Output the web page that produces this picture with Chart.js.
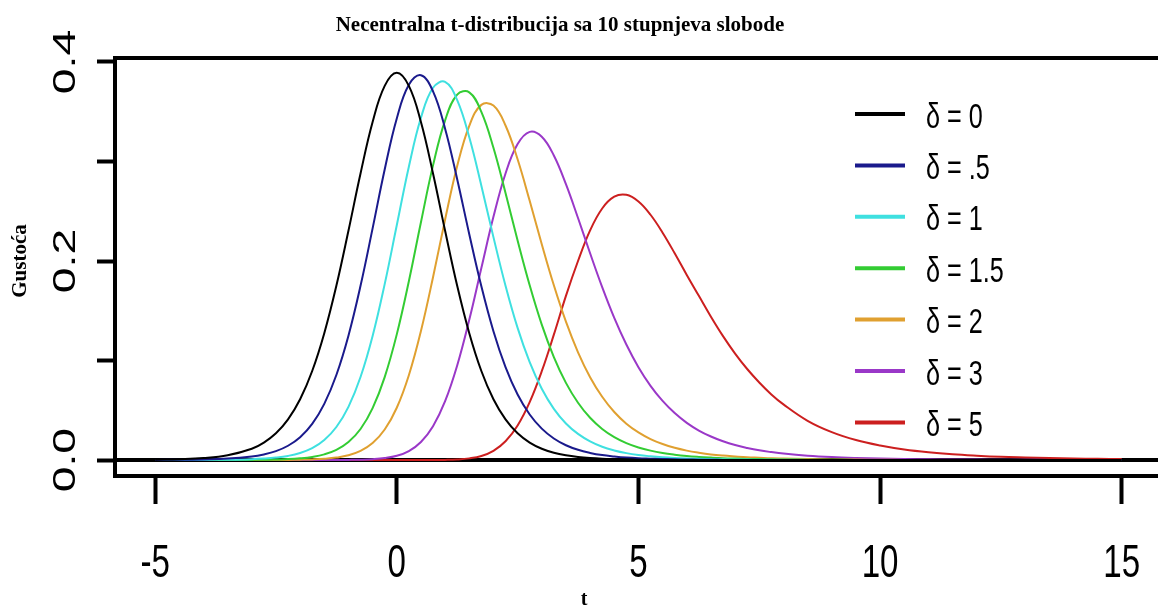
<!DOCTYPE html>
<html>
<head>
<meta charset="utf-8">
<script src="https://cdn.jsdelivr.net/npm/chart.js@4/dist/chart.umd.min.js"></script>
<style>
  html, body { margin: 0; padding: 0; background: #fff; }
  #grafico { display: block; }
</style>
</head>
<body>
<canvas id="grafico" width="1158" height="610"></canvas>
<script>
// t: korak 0.5 u repovima, 0.25 oko vrhova
const tVrijednosti = [-5, -4.5, -4, -3.5, -3,
  -2.75, -2.5, -2.25, -2, -1.75, -1.5, -1.25, -1, -0.75, -0.5, -0.25,
  0, 0.25, 0.5, 0.75, 1, 1.25, 1.5, 1.75, 2, 2.25, 2.5, 2.75, 3,
  3.25, 3.5, 3.75, 4, 4.25, 4.5, 4.75, 5, 5.25, 5.5, 5.75, 6, 6.25,
  6.5, 6.75, 7, 7.25, 7.5, 7.75, 8,
  8.5, 9, 9.5, 10, 10.5, 11, 11.5, 12, 12.5, 13, 13.5, 14, 14.5, 15];

const delta0 = [0.0004, 0.0009, 0.002, 0.0048, 0.0114,
  0.0176, 0.0269, 0.0409, 0.0611, 0.0895, 0.1275, 0.1751, 0.2304, 0.288, 0.3397, 0.376,
  0.3891, 0.376, 0.3397, 0.288, 0.2304, 0.1751, 0.1275, 0.0895, 0.0611, 0.0409, 0.0269, 0.0176, 0.0114,
  0.0074, 0.0048, 0.0031, 0.002, 0.0013, 0.0009, 0.0006, 0.0004, 0.0003, 0.0002, 0.0001, 0.0001, 0.0001,
  0, 0, 0, 0, 0, 0, 0,
  0, 0, 0, 0, 0, 0, 0, 0, 0, 0, 0, 0, 0, 0];
const delta05 = [0.0002, 0.0003, 0.0007, 0.0015, 0.0036,
  0.0057, 0.009, 0.0144, 0.023, 0.0364, 0.0565, 0.0855, 0.125, 0.1751, 0.2328, 0.292,
  0.3433, 0.3771, 0.3867, 0.3705, 0.333, 0.2822, 0.227, 0.1746, 0.1295, 0.0934, 0.0659, 0.0458, 0.0316,
  0.0217, 0.0149, 0.0103, 0.0072, 0.005, 0.0036, 0.0025, 0.0018, 0.0014, 0.001, 0.0008, 0.0006, 0.0004,
  0.0003, 0.0002, 0.0002, 0.0001, 0.0001, 0.0001, 0,
  0, 0, 0, 0, 0, 0, 0, 0, 0, 0, 0, 0, 0, 0];
const delta1 = [0, 0.0001, 0.0002, 0.0004, 0.0009,
  0.0015, 0.0025, 0.0042, 0.0071, 0.0119, 0.0201, 0.0332, 0.0535, 0.0835, 0.1247, 0.1768,
  0.2359, 0.2948, 0.3439, 0.3741, 0.38, 0.3616, 0.3243, 0.2757, 0.224, 0.1752, 0.1328, 0.0984, 0.0716,
  0.0515, 0.0368, 0.0263, 0.0188, 0.0134, 0.0097, 0.007, 0.0051, 0.0038, 0.0028, 0.0021, 0.0016, 0.0013,
  0.001, 0.0008, 0.0006, 0.0005, 0.0004, 0.0003, 0.0003,
  0.0002, 0.0001, 0, 0, 0, 0, 0, 0, 0, 0, 0, 0, 0, 0];
const delta15 = [0, 0, 0, 0.0001, 0.0002,
  0.0003, 0.0006, 0.001, 0.0018, 0.0032, 0.0057, 0.0102, 0.0181, 0.0312, 0.0522, 0.0834,
  0.1263, 0.1797, 0.239, 0.2961, 0.3414, 0.3672, 0.3695, 0.3499, 0.3138, 0.2684, 0.2206, 0.1756, 0.1361,
  0.1035, 0.0776, 0.0576, 0.0425, 0.0313, 0.0231, 0.0171, 0.0127, 0.0095, 0.0071, 0.0054, 0.0041, 0.0032,
  0.0025, 0.0019, 0.0015, 0.0012, 0.001, 0.0008, 0.0006,
  0.0004, 0.0003, 0.0002, 0.0001, 0, 0, 0, 0, 0, 0, 0, 0, 0, 0];
const delta2 = [0, 0, 0, 0, 0,
  0.0001, 0.0001, 0.0002, 0.0004, 0.0007, 0.0013, 0.0025, 0.0048, 0.0092, 0.0171, 0.0307,
  0.0526, 0.0853, 0.1297, 0.1837, 0.2417, 0.2954, 0.3359, 0.3569, 0.3562, 0.3362, 0.3022, 0.2605, 0.2169,
  0.1756, 0.1391, 0.1083, 0.0833, 0.0636, 0.0483, 0.0366, 0.0278, 0.0211, 0.0161, 0.0123, 0.0095, 0.0074,
  0.0057, 0.0045, 0.0036, 0.0028, 0.0023, 0.0018, 0.0015,
  0.001, 0.0007, 0.0005, 0.0003, 0.0002, 0.0002, 0.0001, 0.0001, 0, 0, 0, 0, 0, 0];
const delta3 = [0, 0, 0, 0, 0,
  0, 0, 0, 0, 0, 0, 0.0001, 0.0002, 0.0004, 0.0009, 0.002,
  0.0043, 0.0091, 0.0182, 0.0341, 0.0592, 0.0951, 0.141, 0.193, 0.2444, 0.288, 0.3175, 0.3298, 0.3249,
  0.306, 0.2772, 0.2432, 0.2078, 0.1738, 0.1429, 0.1161, 0.0933, 0.0746, 0.0594, 0.0472, 0.0374, 0.0297,
  0.0237, 0.0189, 0.0151, 0.0122, 0.0098, 0.008, 0.0065,
  0.0044, 0.003, 0.0021, 0.0015, 0.0011, 0.0008, 0.0006, 0.0005, 0.0004, 0.0003, 0.0002, 0.0002, 0.0001, 0.0001];
const delta5 = [0, 0, 0, 0, 0,
  0, 0, 0, 0, 0, 0, 0, 0, 0, 0, 0,
  0, 0, 0, 0.0001, 0.0002, 0.0006, 0.0017, 0.0041, 0.0093, 0.0189, 0.0348, 0.0583, 0.0893,
  0.126, 0.165, 0.2, 0.2308, 0.2528, 0.2646, 0.2665, 0.2598, 0.2465, 0.2285, 0.2078, 0.186, 0.165,
  0.144, 0.1245, 0.107, 0.0915, 0.078, 0.066, 0.056,
  0.0395, 0.0281, 0.0201, 0.0146, 0.0106, 0.0078, 0.0058, 0.0044, 0.0033, 0.0026, 0.002, 0.0016, 0.0013, 0.001];

const oznake = ['δ = 0', 'δ = .5', 'δ = 1', 'δ = 1.5', 'δ = 2', 'δ = 3', 'δ = 5'];
const serije = [delta0, delta05, delta1, delta15, delta2, delta3, delta5];
const boje = ['#000000', '#1a1a8c', '#3fe0e0', '#33cc33', '#e0a030', '#9a38c8', '#cc1f1f'];

const xTicks = [-5, 0, 5, 10, 15];
const yTicks = [0, 0.1, 0.2, 0.3, 0.4];
const yOznake = ['0.0', '', '0.2', '', '0.4'];

const naslov = 'Necentralna t-distribucija sa 10 stupnjeva slobode';
const xNaslov = 't';
const yNaslov = 'Gustoća';

// tekst s vodoravnim sabijanjem (slika je izduzena okomito)
function tekst(ctx, str, x, y, font, sx, rot, align, baseline) {
  ctx.save();
  ctx.translate(x, y);
  if (rot) ctx.rotate(rot);
  ctx.scale(sx, 1);
  ctx.font = font;
  ctx.textAlign = align || 'center';
  ctx.textBaseline = baseline || 'alphabetic';
  ctx.fillText(str, 0, 0);
  ctx.restore();
}

const okvir = {
  id: 'okvir',
  beforeDatasetsDraw(c) {
    const { ctx, chartArea: a, scales } = c;
    ctx.save();
    ctx.strokeStyle = '#000';
    ctx.lineWidth = 4;
    ctx.beginPath();
    ctx.moveTo(c.width, a.top);
    ctx.lineTo(a.left, a.top);
    ctx.lineTo(a.left, a.bottom);
    ctx.lineTo(c.width, a.bottom);
    const y0 = scales.y.getPixelForValue(0);
    ctx.moveTo(a.left, y0);
    ctx.lineTo(c.width, y0);
    ctx.stroke();
    ctx.restore();
  },
  afterDraw(c) {
    const { ctx, scales } = c;
    ctx.save();
    ctx.fillStyle = '#000';

    tekst(ctx, naslov, 560, 31, 'bold 21px "Liberation Serif", serif', 1);
    tekst(ctx, xNaslov, 584, 605, 'bold 20px "Liberation Serif", serif', 1);
    tekst(ctx, yNaslov, 26, 261, 'bold 21px "Liberation Serif", serif', 1, -Math.PI / 2);

    // oznake osi
    xTicks.forEach(v => {
      tekst(ctx, String(v), scales.x.getPixelForValue(v), 577, '46px "Liberation Sans", sans-serif', 0.72);
    });
    yTicks.forEach((v, i) => {
      if (!yOznake[i]) return;
      tekst(ctx, yOznake[i], 75, scales.y.getPixelForValue(v), '32px "Liberation Sans", sans-serif', 1.45, -Math.PI / 2);
    });

    // legenda
    c.data.datasets.forEach((d, i) => {
      const y = 114 + i * 51.4;
      ctx.strokeStyle = d.borderColor;
      ctx.lineWidth = 4;
      ctx.beginPath();
      ctx.moveTo(855, y);
      ctx.lineTo(905, y);
      ctx.stroke();
      tekst(ctx, d.label, 926, y + 13.5, '35px "Liberation Sans", sans-serif', 0.72, 0, 'left');
    });
    ctx.restore();
  }
};

const chart = new Chart(grafico, {
  type: 'line',
  data: {
    datasets: serije.map((s, i) => ({
      label: oznake[i],
      data: tVrijednosti.map((t, j) => ({ x: t, y: s[j] })),
      borderColor: boje[i],
      borderWidth: 2,
      pointRadius: 0,
      tension: 0.4,
      fill: false
    }))
  },
  options: {
    responsive: false,
    animation: false,
    devicePixelRatio: 1,
    layout: { padding: { top: 58, right: 0, bottom: 0, left: 0 } },
    plugins: {
      legend: { display: false },
      title: { display: false },
      tooltip: { enabled: false }
    },
    scales: {
      x: {
        type: 'linear',
        min: -5.83,
        max: 15.75,
        afterBuildTicks: s => { s.ticks = xTicks.map(v => ({ value: v })); },
        afterFit: s => { s.height = 134; },
        border: { display: false },
        grid: { drawOnChartArea: false, drawTicks: true, tickLength: 28, tickWidth: 4, tickColor: '#000' },
        ticks: { display: false }
      },
      y: {
        min: -0.016,
        max: 0.404,
        afterBuildTicks: s => { s.ticks = yTicks.map(v => ({ value: v })); },
        afterFit: s => { s.width = 115; },
        border: { display: false },
        grid: { drawOnChartArea: false, drawTicks: true, tickLength: 18, tickWidth: 4, tickColor: '#000' },
        ticks: { display: false }
      }
    }
  },
  plugins: [okvir]
});
</script>
</body>
</html>
